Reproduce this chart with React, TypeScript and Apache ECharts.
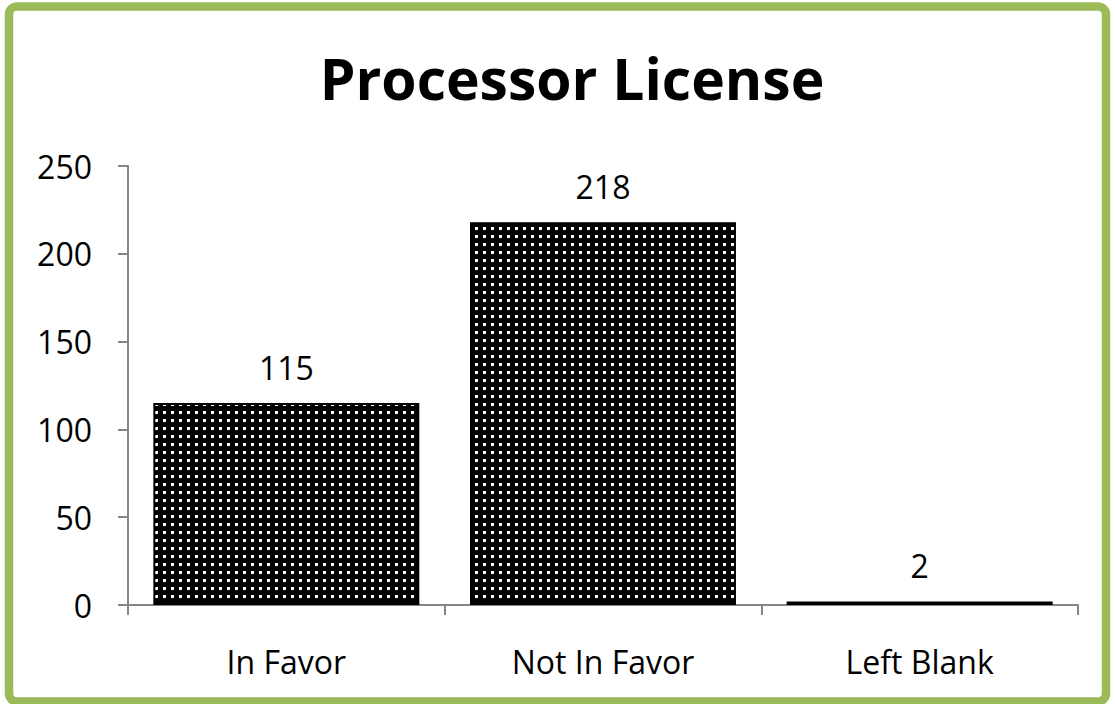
import React, { useEffect, useRef } from "react";
import * as echarts from "echarts";

const categories = ["In Favor", "Not In Favor", "Left Blank"];
const values = [115, 218, 2];
const yTicks = [0, 50, 100, 150, 200, 250];
const title = "Processor License";

function makePattern() {
  const c = document.createElement("canvas");
  c.width = 8;
  c.height = 8;
  const ctx = c.getContext("2d")!;
  ctx.fillStyle = "#000";
  ctx.fillRect(0, 0, 8, 8);
  ctx.fillStyle = "#fff";
  ctx.fillRect(3, 3, 3, 3);
  return c;
}

export default function App() {
  const ref = useRef<HTMLDivElement>(null);
  useEffect(() => {
    document.body.style.margin = "0";
    const chart = echarts.init(ref.current!, undefined, { renderer: "svg" });
    const font = "'Open Sans', 'Noto Sans', sans-serif";
    chart.setOption({
      animation: false,
      backgroundColor: "#fff",
      title: {
        text: title,
        left: 567,
        textAlign: "center",
        top: 44,
        textStyle: { fontSize: 57, fontWeight: "bold", color: "#000", fontFamily: font },
      },
      grid: { left: 128, right: 37, top: 166, bottom: 99 },
      xAxis: {
        type: "category",
        data: categories,
        axisLine: { lineStyle: { color: "#868686", width: 2 } },
        axisTick: { show: true, length: 10, alignWithLabel: false, lineStyle: { color: "#868686", width: 2 } },
        axisLabel: { fontSize: 32, color: "#000", margin: 40, fontFamily: font },
      },
      yAxis: {
        type: "value",
        min: yTicks[0],
        max: yTicks[yTicks.length - 1],
        interval: 50,
        splitLine: { show: false },
        axisLine: { show: true, lineStyle: { color: "#868686", width: 2 } },
        axisTick: { show: true, length: 10, lineStyle: { color: "#868686", width: 2 } },
        axisLabel: { fontSize: 32, color: "#000", margin: 36, fontFamily: font },
      },
      series: [
        {
          type: "bar",
          data: values,
          barCategoryGap: "16%",
          itemStyle: {
            color: { image: makePattern(), repeat: "repeat" },
            borderColor: "#000",
            borderWidth: 2,
          },
          label: {
            show: true,
            position: "top",
            distance: 20,
            fontSize: 32,
            color: "#000",
            fontFamily: font,
          },
        },
      ],
      graphic: [
        {
          type: "rect",
          shape: { x: 9, y: 6.5, width: 1097, height: 695, r: 8 },
          style: { fill: "none", stroke: "#9BBB59", lineWidth: 8.5 },
          silent: true,
        },
      ],
    });
    return () => chart.dispose();
  }, []);
  return <div ref={ref} style={{ width: 1115, height: 704, position: "fixed", left: 0, top: 0 }} />;
}
